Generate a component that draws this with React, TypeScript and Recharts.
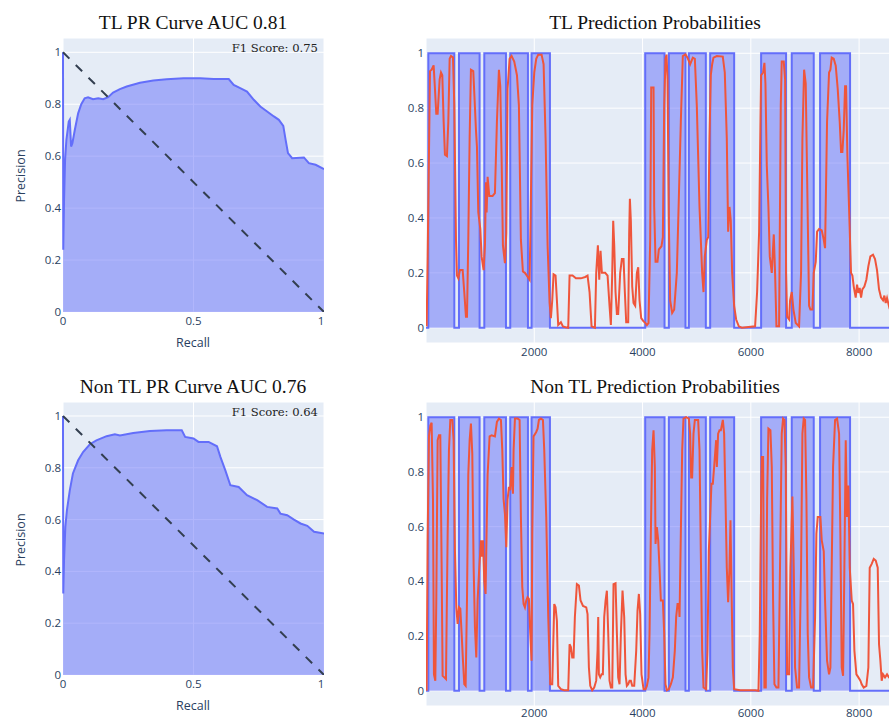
import React from 'react';
import { ComposedChart, Area, Line, XAxis, YAxis, CartesianGrid } from 'recharts';

// PR curves: [recall, precision]
const tlPrCurve: [number, number][] = [
    [0, 1], [0.001, 0.24], [0.004, 0.43], [0.008, 0.586], [0.013, 0.663], [0.022, 0.733], [0.026, 0.74],
    [0.031, 0.637], [0.036, 0.65], [0.045, 0.7], [0.058, 0.765], [0.07, 0.8], [0.083, 0.823], [0.096, 0.827],
    [0.115, 0.819], [0.135, 0.823], [0.154, 0.819], [0.173, 0.827], [0.192, 0.845], [0.218, 0.858],
    [0.244, 0.868], [0.295, 0.883], [0.346, 0.891], [0.397, 0.896], [0.462, 0.9], [0.526, 0.9], [0.577, 0.897],
    [0.635, 0.897], [0.654, 0.874], [0.679, 0.862], [0.705, 0.849], [0.731, 0.817], [0.756, 0.791],
    [0.782, 0.772], [0.808, 0.753], [0.827, 0.74], [0.844, 0.717], [0.853, 0.663], [0.862, 0.612],
    [0.878, 0.592], [0.923, 0.595], [0.942, 0.573], [0.968, 0.567], [1, 0.55],
];

const nonTlPrCurve: [number, number][] = [
    [0, 1], [0.001, 0.315], [0.004, 0.443], [0.009, 0.572], [0.015, 0.636], [0.026, 0.713], [0.038, 0.778],
    [0.058, 0.829], [0.077, 0.861], [0.103, 0.891], [0.128, 0.906], [0.167, 0.922], [0.199, 0.929],
    [0.218, 0.925], [0.269, 0.934], [0.333, 0.942], [0.397, 0.945], [0.455, 0.945], [0.468, 0.919],
    [0.5, 0.913], [0.519, 0.9], [0.558, 0.9], [0.59, 0.883], [0.603, 0.842], [0.622, 0.79], [0.641, 0.733],
    [0.673, 0.726], [0.705, 0.694], [0.744, 0.675], [0.782, 0.649], [0.821, 0.643], [0.833, 0.623],
    [0.859, 0.617], [0.885, 0.6], [0.91, 0.585], [0.936, 0.576], [0.962, 0.553], [1, 0.546],
];

const chanceLine: [number, number][] = [[0, 1], [1, 0]];

// ground-truth label intervals (value 1 between start and end)
const labelStarts = [43, 609, 1077, 1556, 1950, 4049, 4486, 4855, 5249, 6190, 6756, 7279];
const labelEnds = [523, 990, 1477, 1883, 2289, 4406, 4793, 5169, 5692, 6651, 7162, 7833];
const sampleEnd = 8700;

// predicted probabilities: [sample, probability]
const tlProbs: [number, number][] = [
    [12, 0.005], [31, 0.26], [74, 0.935], [104, 0.94], [141, 0.956], [160, 0.89], [190, 0.78], [215, 0.78],
    [252, 0.905], [277, 0.93], [301, 0.92], [326, 0.75], [350, 0.63], [387, 0.625], [412, 0.75], [437, 0.98],
    [461, 0.99], [498, 0.985], [523, 0.81], [554, 0.32], [572, 0.19], [597, 0.18], [627, 0.21], [677, 0.21],
    [707, 0.13], [738, 0.04], [757, 0.04], [781, 0.32], [806, 0.69], [830, 0.94], [873, 0.935], [898, 0.83],
    [923, 0.72], [941, 0.66], [966, 0.42], [1003, 0.36], [1027, 0.26], [1064, 0.21], [1089, 0.3], [1107, 0.53],
    [1120, 0.42], [1138, 0.55], [1169, 0.48], [1230, 0.48], [1273, 0.49], [1310, 0.75], [1347, 0.94],
    [1372, 0.88], [1396, 0.625], [1421, 0.3], [1458, 0.235], [1483, 0.345], [1507, 0.87], [1544, 0.98],
    [1581, 0.99], [1630, 0.97], [1680, 0.92], [1716, 0.81], [1753, 0.32], [1790, 0.205], [1827, 0.2],
    [1864, 0.19], [1913, 0.175], [1926, 0.32], [1963, 0.81], [2000, 0.93], [2036, 0.98], [2073, 0.995],
    [2135, 0.995], [2172, 0.96], [2209, 0.69], [2246, 0.3], [2283, 0.09], [2307, 0.035], [2332, 0.1],
    [2356, 0.195], [2393, 0.19], [2418, 0.1], [2442, 0.01], [2492, 0.02], [2529, 0.005], [2578, 0.002],
    [2627, 0], [2652, 0.19], [2707, 0.19], [2769, 0.18], [2861, 0.18], [2941, 0.185], [2984, 0.19],
    [3021, 0.13], [3058, 0.005], [3120, 0], [3144, 0.2], [3175, 0.3], [3200, 0.175], [3224, 0.28], [3249, 0.2],
    [3310, 0.2], [3354, 0.19], [3390, 0.08], [3415, 0.01], [3440, 0.2], [3458, 0.39], [3477, 0.3], [3501, 0.13],
    [3526, 0.05], [3550, 0.05], [3587, 0.2], [3618, 0.25], [3649, 0.25], [3673, 0.13], [3698, 0.02],
    [3735, 0.02], [3753, 0.345], [3766, 0.47], [3784, 0.39], [3809, 0.15], [3833, 0.09], [3864, 0.08],
    [3895, 0.2], [3920, 0.22], [3944, 0.1], [3975, 0.035], [4018, 0.023], [4055, 0.017], [4080, 0.01],
    [4110, 0.017], [4141, 0.32], [4160, 0.875], [4203, 0.875], [4215, 0.44], [4240, 0.24], [4276, 0.24],
    [4301, 0.285], [4350, 0.297], [4375, 0.33], [4400, 0.81], [4424, 0.98], [4443, 0.995], [4461, 0.905],
    [4486, 0.38], [4510, 0.1], [4547, 0.054], [4584, 0.066], [4633, 0.2], [4670, 0.47], [4707, 0.75],
    [4744, 0.99], [4793, 0.996], [4830, 0.984], [4879, 0.96], [4929, 0.984], [4966, 0.98], [5002, 0.81],
    [5052, 0.44], [5101, 0.2], [5126, 0.13], [5150, 0.26], [5187, 0.32], [5212, 0.33], [5236, 0.69],
    [5261, 0.92], [5286, 0.96], [5310, 0.984], [5372, 0.99], [5482, 0.988], [5519, 0.93], [5556, 0.69],
    [5581, 0.35], [5606, 0.44], [5630, 0.39], [5655, 0.2], [5692, 0.08], [5729, 0.03], [5778, 0.005],
    [5833, 0], [6079, 0.005], [6116, 0.13], [6153, 0.35], [6178, 0.75], [6190, 0.92], [6227, 0.93],
    [6251, 0.965], [6270, 0.89], [6295, 0.59], [6325, 0.44], [6350, 0.26], [6387, 0.2], [6424, 0.34],
    [6448, 0.2], [6473, 0.005], [6522, 0.005], [6553, 0.81], [6571, 0.97], [6608, 0.97], [6633, 0.905],
    [6651, 0.2], [6670, 0.04], [6707, 0.03], [6725, 0.1], [6756, 0.13], [6787, 0.066], [6830, 0.017],
    [6891, 0.005], [6928, 0.2], [6953, 0.69], [6984, 0.94], [7014, 0.89], [7039, 0.56], [7076, 0.08],
    [7101, 0.066], [7138, 0.066], [7162, 0.2], [7199, 0.24], [7224, 0.35], [7261, 0.36], [7310, 0.355],
    [7347, 0.32], [7371, 0.29], [7408, 0.75], [7445, 0.93], [7470, 0.94], [7494, 0.984], [7531, 0.98],
    [7568, 0.955], [7605, 0.87], [7642, 0.75], [7667, 0.64], [7691, 0.64], [7716, 0.72], [7741, 0.88],
    [7759, 0.88], [7784, 0.625], [7814, 0.44], [7851, 0.2], [7876, 0.19], [7901, 0.15], [7937, 0.11],
    [7962, 0.157], [7987, 0.127], [8011, 0.145], [8036, 0.11], [8060, 0.14], [8097, 0.15], [8134, 0.175],
    [8171, 0.224], [8208, 0.26], [8257, 0.266], [8294, 0.25], [8331, 0.21], [8368, 0.14], [8405, 0.11],
    [8442, 0.1], [8467, 0.117], [8491, 0.09], [8516, 0.108], [8553, 0.078], [8600, 0.1], [8650, 0.08],
    [8700, 0.09],
];

const nonTlProbs: [number, number][] = [
    [12, 0], [31, 0.57], [55, 0.93], [80, 0.97], [104, 0.98], [129, 0.7], [147, 0.06], [172, 0.037],
    [190, 0.33], [215, 0.916], [240, 0.934], [264, 0.934], [289, 0.45], [307, 0.055], [338, 0.049],
    [369, 0.043], [400, 0.574], [424, 0.88], [449, 0.99], [486, 0.99], [510, 0.916], [535, 0.51], [560, 0.305],
    [584, 0.244], [609, 0.305], [634, 0.3], [658, 0.21], [683, 0.11], [707, 0.024], [732, 0.018], [757, 0.33],
    [781, 0.79], [806, 0.916], [830, 0.977], [855, 0.867], [880, 0.45], [904, 0.232], [929, 0.122],
    [953, 0.33], [984, 0.45], [1015, 0.55], [1033, 0.49], [1052, 0.55], [1077, 0.4], [1101, 0.354],
    [1113, 0.51], [1138, 0.79], [1175, 0.93], [1212, 0.934], [1273, 0.93], [1310, 0.983], [1347, 0.995],
    [1384, 0.99], [1409, 0.88], [1433, 0.7], [1458, 0.647], [1483, 0.525], [1507, 0.7], [1532, 0.745],
    [1556, 0.733], [1581, 0.818], [1606, 0.72], [1618, 0.88], [1643, 0.995], [1692, 0.995], [1729, 0.99],
    [1753, 0.635], [1778, 0.38], [1803, 0.317], [1827, 0.305], [1852, 0.33], [1876, 0.342], [1901, 0.336],
    [1926, 0.21], [1950, 0.11], [1963, 0.574], [1987, 0.93], [2036, 0.946], [2061, 0.958], [2086, 0.99],
    [2123, 0.995], [2160, 0.99], [2184, 0.88], [2221, 0.635], [2258, 0.27], [2295, 0.024], [2332, 0.024],
    [2369, 0.317], [2393, 0.305], [2418, 0.256], [2442, 0.018], [2492, 0.006], [2553, 0.002], [2627, 0.002],
    [2652, 0.17], [2676, 0.16], [2701, 0.122], [2726, 0.122], [2750, 0.27], [2787, 0.39], [2824, 0.385],
    [2855, 0.33], [2900, 0.31], [2960, 0.305], [2984, 0.28], [3009, 0.085], [3034, 0.018], [3070, 0.002],
    [3107, 0.012], [3144, 0.037], [3169, 0.147], [3181, 0.27], [3193, 0.06], [3218, 0.049], [3243, 0.06],
    [3267, 0.06], [3292, 0.27], [3317, 0.33], [3341, 0.366], [3366, 0.21], [3390, 0.037], [3415, 0.012],
    [3440, 0.012], [3464, 0.39], [3501, 0.393], [3526, 0.21], [3550, 0.049], [3575, 0.024], [3600, 0.21],
    [3630, 0.366], [3661, 0.27], [3686, 0.06], [3710, 0.018], [3735, 0.024], [3760, 0.037], [3784, 0.037],
    [3809, 0.018], [3846, 0.018], [3883, 0.147], [3907, 0.293], [3932, 0.354], [3956, 0.28], [3981, 0.06],
    [4018, 0.006], [4055, 0.006], [4080, 0.018], [4110, 0.049], [4129, 0.21], [4153, 0.574], [4178, 0.88],
    [4203, 0.952], [4227, 0.818], [4240, 0.537], [4264, 0.598], [4289, 0.55], [4313, 0.45], [4338, 0.33],
    [4375, 0.33], [4400, 0.21], [4424, 0.024], [4449, 0.002], [4486, 0.006], [4523, 0.024], [4560, 0.049],
    [4596, 0.147], [4621, 0.27], [4646, 0.317], [4670, 0.317], [4683, 0.27], [4707, 0.574], [4732, 0.88],
    [4756, 0.995], [4806, 1], [4855, 0.995], [4879, 0.94], [4898, 0.78], [4916, 0.78], [4941, 0.94],
    [4966, 0.99], [5027, 0.99], [5052, 0.88], [5076, 0.51], [5101, 0.147], [5126, 0.012], [5175, 0.006],
    [5199, 0.147], [5224, 0.51], [5249, 0.635], [5273, 0.757], [5298, 0.757], [5322, 0.818], [5359, 0.916],
    [5372, 0.818], [5396, 0.94], [5421, 0.952], [5446, 0.952], [5483, 0.99], [5507, 0.94], [5532, 0.7],
    [5556, 0.45], [5581, 0.324], [5606, 0.45], [5624, 0.623], [5649, 0.305], [5667, 0.085], [5692, 0.006],
    [5803, 0.002], [6079, 0.002], [6141, 0], [6165, 0.21], [6190, 0.7], [6202, 0.855], [6227, 0.855],
    [6251, 0.012], [6276, 0.012], [6301, 0.7], [6325, 0.958], [6362, 0.952], [6387, 0.818], [6411, 0.33],
    [6436, 0.024], [6473, 0.012], [6510, 0.012], [6547, 0.574], [6571, 0.94], [6596, 0.995], [6621, 0.99],
    [6645, 0.818], [6670, 0.06], [6707, 0.06], [6731, 0.45], [6768, 0.71], [6793, 0.45], [6817, 0.085],
    [6854, 0.012], [6891, 0.012], [6928, 0.45], [6953, 0.94], [6977, 0.995], [7002, 0.99], [7027, 0.7],
    [7051, 0.21], [7076, 0.049], [7113, 0.012], [7150, 0.012], [7187, 0.27], [7211, 0.574], [7236, 0.635],
    [7285, 0.635], [7310, 0.55], [7347, 0.51], [7371, 0.33], [7408, 0.11], [7445, 0.06], [7470, 0.085],
    [7494, 0.45], [7519, 0.818], [7556, 0.99], [7593, 0.995], [7630, 0.94], [7654, 0.574], [7679, 0.085],
    [7704, 0.055], [7728, 0.45], [7753, 0.916], [7777, 0.635], [7802, 0.75], [7827, 0.45], [7864, 0.33],
    [7888, 0.317], [7913, 0.147], [7950, 0.06], [7987, 0.049], [8024, 0.037], [8048, 0.024], [8085, 0.012],
    [8134, 0.018], [8171, 0.085], [8196, 0.45], [8233, 0.464], [8270, 0.482], [8307, 0.476], [8344, 0.45],
    [8368, 0.17], [8393, 0.11], [8417, 0.037], [8442, 0.06], [8479, 0.049], [8516, 0.06], [8553, 0.049],
    [8600, 0.05], [8700, 0.04],
];

const prXTicks = [0, 0.5, 1];
const probXTicks = [2000, 4000, 6000, 8000];
const yTicks = [0, 0.2, 0.4, 0.6, 0.8, 1];

const PLOT_BG = '#e5ecf6';
const BLUE = '#636efa';
const RED = '#ef553b';
const AXIS_TEXT = '#2a3f5f';
const tickStyle = { fill: AXIS_TEXT, fontSize: 11.5, fontFamily: '"Open Sans", sans-serif' };

const toPoints = (pairs: [number, number][]) => pairs.map(([x, y]) => ({ x, y }));

// step outline of the label intervals
const labelSteps = [{ x: 0, y: 0 }];
labelStarts.forEach((s, i) => {
    labelSteps.push({ x: s, y: 0 }, { x: s, y: 1 }, { x: labelEnds[i], y: 1 }, { x: labelEnds[i], y: 0 });
});
labelSteps.push({ x: sampleEnd, y: 0 });

const centered = (left: number, top: number): React.CSSProperties => ({
    position: 'absolute', left, top, transform: 'translate(-50%, -50%)', whiteSpace: 'nowrap', lineHeight: 1,
});

const titleStyle = { fontFamily: '"Liberation Serif", serif', fontSize: 19.5, color: '#111' };
const axisTitleStyle = { fontFamily: '"Open Sans", sans-serif', fontSize: 12.5, color: AXIS_TEXT };

interface PrPanelProps {
    top: number;
    plotTop: number;
    plotBottom: number;
    yMax: number;
    title: string;
    f1: string;
    curve: [number, number][];
}

const PrPanel: React.FC<PrPanelProps> = ({ top, plotTop, plotBottom, yMax, title, f1, curve }) => (
    <div style={{ position: 'absolute', left: 0, top, width: 360, height: 360 }}>
        <ComposedChart width={324} height={plotBottom + 30} margin={{ top: plotTop, right: 0, bottom: 0, left: 0 }}>
            <CartesianGrid fill={PLOT_BG} stroke="#fff" strokeWidth={1} />
            <XAxis type="number" dataKey="x" domain={[0, 1]} ticks={prXTicks} tickFormatter={(v) => String(v)}
                tickLine={false} axisLine={false} tickSize={0} tickMargin={5} height={30} tick={tickStyle} />
            <YAxis type="number" dataKey="y" domain={[0, yMax]} ticks={yTicks} allowDataOverflow
                tickLine={false} axisLine={false} tickSize={0} tickMargin={2} width={63} tick={tickStyle} />
            <Area data={toPoints(curve)} dataKey="y" type="linear" stroke={BLUE} strokeWidth={2} fill={BLUE}
                fillOpacity={0.5} baseValue={0} dot={false} activeDot={false} isAnimationActive={false} />
            <Line data={toPoints(chanceLine)} dataKey="y" type="linear" stroke="#333f50" strokeWidth={2}
                strokeDasharray="9 9" dot={false} activeDot={false} isAnimationActive={false} />
        </ComposedChart>
        <div style={{ ...centered(193, plotTop - 15), ...titleStyle }}>{title}</div>
        <div style={{ ...centered(318, plotTop + 11), transform: 'translate(-100%, -50%)', fontFamily: '"DejaVu Serif", serif', fontSize: 11.6, color: '#222' }}>{f1}</div>
        <div style={{ ...centered(21, (plotTop + plotBottom) / 2 + 1), ...axisTitleStyle, transform: 'translate(-50%, -50%) rotate(-90deg)' }}>Precision</div>
        <div style={{ ...centered(193, plotBottom + 31), ...axisTitleStyle }}>Recall</div>
    </div>
);

interface ProbPanelProps {
    top: number;
    plotTop: number;
    plotBottom: number;
    title: string;
    probs: [number, number][];
    tickGap: number;
}

const ProbPanel: React.FC<ProbPanelProps> = ({ top, plotTop, plotBottom, title, probs, tickGap }) => (
    <div style={{ position: 'absolute', left: 380, top, width: 509, height: 360 }}>
        <ComposedChart width={517} height={plotBottom + 30} margin={{ top: plotTop, right: 0, bottom: 0, left: 0 }}>
            <CartesianGrid fill={PLOT_BG} stroke="#fff" strokeWidth={1} />
            <XAxis type="number" dataKey="x" domain={[0, sampleEnd]} ticks={probXTicks} allowDataOverflow
                tickLine={false} axisLine={false} tickSize={0} tickMargin={tickGap} height={30} tick={tickStyle} />
            <YAxis type="number" dataKey="y" domain={[-0.0556, 1.0556]} ticks={yTicks} allowDataOverflow
                tickLine={false} axisLine={false} tickSize={0} tickMargin={2} width={46} tick={tickStyle} />
            <Area data={labelSteps} dataKey="y" type="linear" stroke={BLUE} strokeWidth={2} fill={BLUE}
                fillOpacity={0.5} baseValue={0} dot={false} activeDot={false} isAnimationActive={false} />
            <Line data={toPoints(probs)} dataKey="y" type="linear" stroke={RED} strokeWidth={2}
                dot={false} activeDot={false} isAnimationActive={false} />
        </ComposedChart>
        <div style={{ ...centered(275, plotTop - 15), ...titleStyle }}>{title}</div>
    </div>
);

const App: React.FC = () => (
    <div style={{ position: 'fixed', left: 0, top: 0, width: 889, height: 720, overflow: 'hidden', background: '#fff' }}>
        <PrPanel top={0} plotTop={38} plotBottom={312} yMax={1.055} title="TL PR Curve AUC 0.81" f1="F1 Score: 0.75" curve={tlPrCurve} />
        <ProbPanel top={0} plotTop={38} plotBottom={343} title="TL Prediction Probabilities" probs={tlProbs} tickGap={5} />
        <PrPanel top={360} plotTop={42} plotBottom={315} yMax={1.054} title="Non TL PR Curve AUC 0.76" f1="F1 Score: 0.64" curve={nonTlPrCurve} />
        <ProbPanel top={360} plotTop={42} plotBottom={346} title="Non TL Prediction Probabilities" probs={nonTlProbs} tickGap={3} />
    </div>
);

export default App;
